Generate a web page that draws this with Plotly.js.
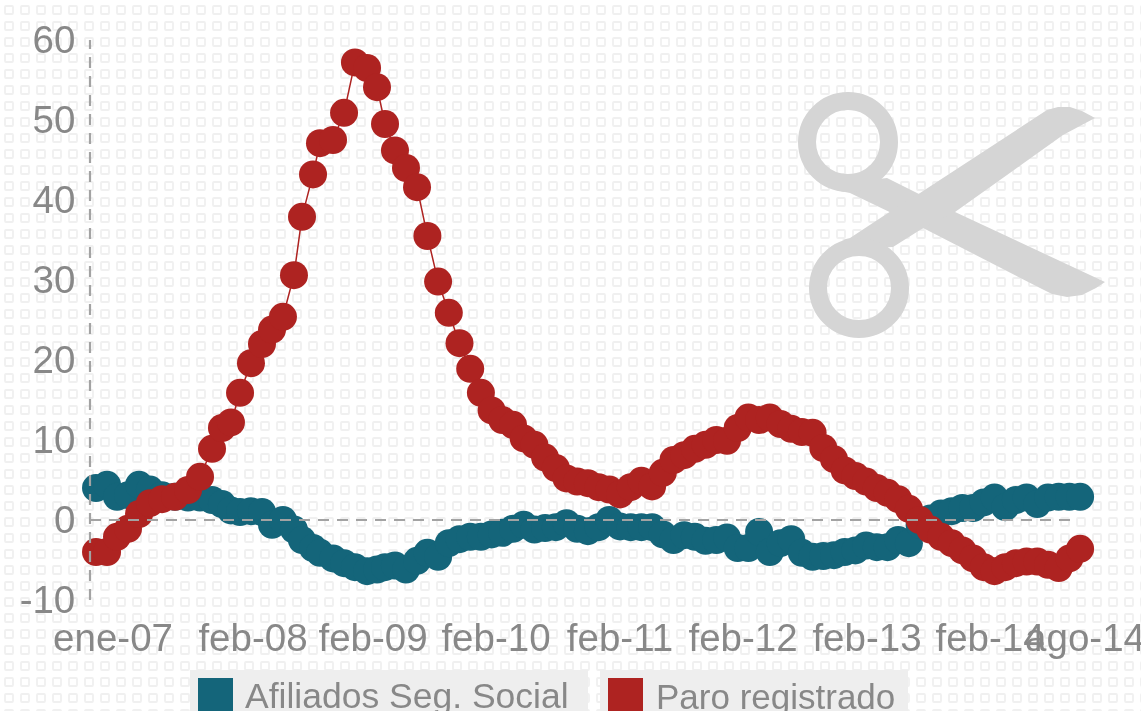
<!DOCTYPE html>
<html>
<head>
<meta charset="utf-8">
<script src="https://cdn.plot.ly/plotly-3.0.1.min.js"></script>
<style>
html,body{margin:0;padding:0;width:1141px;height:711px;overflow:hidden;background-color:#fff;
background-image:url("data:image/svg+xml,%3Csvg xmlns='http://www.w3.org/2000/svg' width='16' height='16'%3E%3Crect x='5' y='6' width='8' height='8' rx='1' fill='none' stroke='%23f0f0f0' stroke-width='1.8'/%3E%3C/svg%3E");}
#deco{position:absolute;left:0;top:0;filter:blur(0.6px)}
#chart{position:absolute;left:0;top:0;width:1141px;height:711px;filter:blur(0.6px)}
</style>
</head>
<body>
<svg id="deco" width="1141" height="711">
  <g fill="#d5d5d5">
    <polygon points="887,178 955,212 1105,282 1096,288 1082,295 1067,297 1052,294 1040,288 927,230 850,193 840,191 870,180"/>
    <polygon points="1095,118 1082,111 1070,107 1058,107 1047,110 920,193 888,213 850,238 842,240 870,248 893,247 920,230 955,212 1063,135"/>
  </g>
  <circle cx="848" cy="142" r="41" fill="none" stroke="#d5d5d5" stroke-width="18"/>
  <circle cx="859" cy="288" r="41" fill="none" stroke="#d5d5d5" stroke-width="18"/>
</svg>
<div id="chart"></div>
<script>
const mesesInicio = [0,1.03,2.06,2.99,4.02,5.05,6.07,7.2,8.41,9.63,10.75,11.87,12.8,13.64,14.49,15.51,16.54,17.48,18.5,19.53,20.28,21.31,21.96,23.18,24.21,25.23,26.36,27.29,28.04,28.97,30,31.03];
const mesesResto = [32,33,34,35,36,37,38,39,40,41,42,43,44,45,46,47,48,49,50,51,52,53,54,55,56,57,58,59,60,61,62,63,64,65,66,67,68,69,70,71,72,73,74,75,76,77,78,79,80,81,82,83,84,85,86,87,88,89,90,91,92,93];
const months = mesesInicio.concat(mesesResto);
const afiliados = [3.8,4,4.4,2.9,3.1,4.4,3.8,3.1,2.9,2.8,2.8,2.5,2,1.2,1,1.1,1,-0.6,0,-1.2,-2.5,-3.5,-4.1,-4.8,-5.4,-5.9,-6.4,-6.2,-5.9,-5.7,-6.2,-5.1,-4.1,-4.6,-2.9,-2.4,-2.1,-2.1,-1.8,-1.6,-1.1,-0.6,-1.2,-1,-0.9,-0.4,-1.1,-1.4,-0.9,0,-0.8,-0.9,-0.9,-0.9,-1.8,-2.5,-1.9,-2.1,-2.6,-2.5,-2.2,-3.5,-3.5,-1.5,-4,-2.9,-2.4,-4.1,-4.6,-4.5,-4.4,-4,-3.8,-3.2,-3.4,-3.4,-2.5,-2.9,-0.6,0.2,0.8,1.1,1.5,1.5,2.2,2.8,1.6,2.5,2.8,2,2.8,2.9,2.9,2.9];
const paro = [-3.9,-4,-4,-2.1,-1.1,0.75,2.1,2.6,2.9,3.75,5.4,8.9,11.5,12.2,15.9,19.6,22,23.8,25.4,30.6,37.9,43.2,47.1,47.5,50.9,57.2,56.5,54.1,49.5,46.2,44,41.6,35.5,29.8,25.9,22.1,18.9,15.9,13.7,12.5,11.9,10.2,9.4,7.8,6.5,5.2,4.8,4.6,4.1,3.8,3.2,4.1,4.9,4.2,5.9,7.5,8.1,8.9,9.4,10,9.9,11.5,12.8,12.5,12.8,12,11.4,11,10.9,9,7.6,6.2,5.5,4.8,4,3.4,2.6,1.4,0,-1.2,-2.1,-2.9,-3.8,-4.8,-5.9,-6.4,-5.9,-5.4,-5.2,-5.2,-5.6,-6,-4.8,-3.6];
const xTickLabels = ["ene-07","feb-08","feb-09","feb-10","feb-11","feb-12","feb-13","feb-14","ago-14"];
const xTickPos = [2.62,15.7,26.92,38.41,50,61.5,73.08,84.58,93.46];
const yTicks = [-10,0,10,20,30,40,50,60];
const legendNames = ["Afiliados Seg. Social","Paro registrado"];
const colors = ["#14657a","#ae2321"];

const L=90,R=1130,T=40,B=600,X0=85,DX=10.7;
const px=x=>(x-L)/(R-L), py=y=>(B-y)/(B-T);
const grey="#888888";
const font={family:"Liberation Sans, Arial, sans-serif",size:38.5,color:grey};
const trace=(y,i)=>({x:months,y,name:legendNames[i],type:"scatter",mode:"lines+markers",cliponaxis:false,showlegend:false,hoverinfo:"skip",
  line:{color:colors[i],width:1.5},marker:{color:colors[i],size:28,line:{width:0}}});
const box=(x0,y0,x1,y1,fill)=>({type:"rect",xref:"paper",yref:"paper",x0:px(x0),x1:px(x1),y0:py(y0),y1:py(y1),fillcolor:fill,line:{width:0},layer:"below"});
const dash={color:"#a3a3a3",width:2.2,dash:"11px,8px"};
Plotly.newPlot("chart",[trace(afiliados,0),trace(paro,1)],{
  width:1141,height:711,
  margin:{l:L,r:1141-R,t:T,b:711-B,pad:0},
  paper_bgcolor:"rgba(0,0,0,0)",plot_bgcolor:"rgba(0,0,0,0)",
  font,showlegend:false,
  xaxis:{range:[(L-X0)/DX,(R-X0)/DX],tickmode:"array",tickvals:xTickPos,ticktext:xTickLabels,showgrid:false,zeroline:false,showline:false,
    ticks:"outside",ticklen:4,tickcolor:"rgba(0,0,0,0)",tickangle:0,tickfont:font,automargin:false,ticklabeloverflow:"allow"},
  yaxis:{range:[-10,60],tickmode:"array",tickvals:yTicks,ticktext:yTicks.map(String),showgrid:false,zeroline:false,showline:false,
    ticks:"outside",ticklen:6,tickcolor:"rgba(0,0,0,0)",tickfont:font,automargin:false,ticklabeloverflow:"allow"},
  shapes:[
    {type:"line",xref:"x",yref:"y",x0:(L-X0)/DX,x1:92.8,y0:0,y1:0,line:dash,layer:"above"},
    {type:"line",xref:"paper",yref:"y",x0:0,x1:0,y0:-10,y1:60,line:dash,layer:"above"},
    box(190,670,588,720,"#eeeeee"),box(600,670,908,720,"#eeeeee"),
    box(198,678,233,720,colors[0]),box(608,678,643,720,colors[1])
  ],
  annotations:[
    {xref:"paper",yref:"paper",x:px(243),y:py(696),xanchor:"left",yanchor:"middle",text:legendNames[0],showarrow:false,font:{...font,size:35.5}},
    {xref:"paper",yref:"paper",x:px(654),y:py(696),xanchor:"left",yanchor:"middle",text:legendNames[1],showarrow:false,font:{...font,size:35}}
  ]
},{staticPlot:true,displayModeBar:false});
</script>
</body>
</html>
